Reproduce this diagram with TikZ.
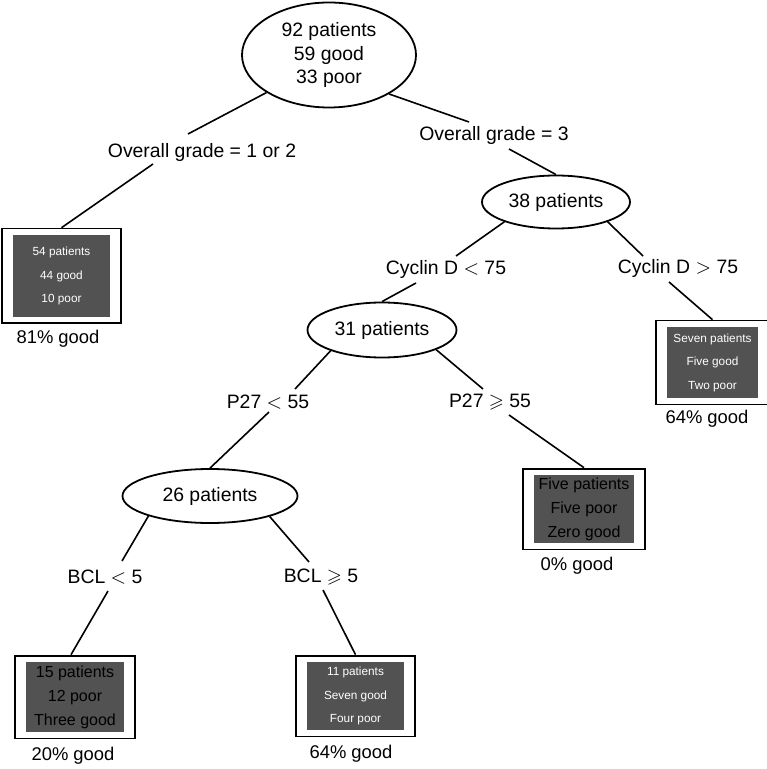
\documentclass[tikz,border=0pt]{standalone}
\usepackage{amsmath}
\usepackage{amssymb}
\usepackage{fontspec}
\setmainfont{Liberation Sans}
\usetikzlibrary{shapes.geometric, fit}
\definecolor{leafgray}{RGB}{82,82,82}

\begin{document}
\begin{tikzpicture}[x=0.5pt, y=-0.5pt,
    split/.style={ellipse, draw, line width=0.9pt, inner sep=0pt, align=center,
        font=\fontsize{9.7}{11.75}\selectfont},
    cond/.style={inner sep=0pt, font=\fontsize{9.7}{11.75}\selectfont},
    pct/.style={inner sep=0pt, font=\fontsize{9.2}{11}\selectfont},
    leafw/.style={fill=leafgray, text=white, inner sep=0pt, align=center,
        minimum width=48.5pt, minimum height=34pt, font=\fontsize{5.9}{11.75}\selectfont},
    leafb/.style={leafw, text=black, font=\fontsize{8}{12}\selectfont},
    frame/.style={draw, line width=0.9pt, inner xsep=5.25pt, inner ysep=3pt},
    edge/.style={line width=0.8pt}]
            \useasboundingbox (0,0) rectangle (766,769);

            % Root
            \node[split, minimum width=87pt, minimum height=52.5pt] (root) at (329,55) {92 patients\\59 good\\33 poor};
            \node[cond] (gradeA) at (202,152) {Overall grade = 1 or 2};
            \node[cond] (gradeB) at (494,135) {Overall grade = 3};

            % Grade 1 or 2
            \node[leafw, minimum height=41pt] (leafA) at (61.5,276) {54 patients\\44 good\\10 poor};
            \node[frame, fit=(leafA)] (frA) {};
            \node[pct] (pctA) at (58,339) {81\% good};

            % Grade 3
            \node[split, minimum width=74pt, minimum height=26.5pt] (n38) at (556,202) {38 patients};
            \node[cond] (cycA) at (446,269) {Cyclin D $<$ 75};
            \node[cond] (cycB) at (678,268) {Cyclin D $>$ 75};

            \node[leafw, minimum width=45.5pt, minimum height=35.5pt] (leafB) at (712.5,362.5) {Seven patients\\Five good\\Two poor};
            \node[frame, fit=(leafB)] (frB) {};
            \node[pct] (pctB) at (707,419) {64\% good};

            % Cyclin D < 75
            \node[split, minimum width=74.5pt, minimum height=27.5pt] (n31) at (382,330) {31 patients};
            \node[cond] (pA) at (268,402) {P27 $<$ 55};
            \node[cond] (pB) at (490,402) {P27 $\geqslant$ 55};

            \node[leafb, minimum width=50pt] (leafC) at (584,509) {Five patients\\Five poor\\Zero good};
            \node[frame, fit=(leafC)] (frC) {};
            \node[pct] (pctC) at (577,566) {0\% good};

            % P27 < 55
            \node[split, minimum width=87.5pt, minimum height=27pt] (n26) at (210,496) {26 patients};
            \node[cond] (bA) at (105,577) {BCL $<$ 5};
            \node[cond] (bB) at (321,577) {BCL $\geqslant$ 5};

            \node[leafb, minimum width=49pt, minimum height=35pt] (leafD) at (75,697) {15 patients\\12 poor\\Three good};
            \node[frame, fit=(leafD)] (frD) {};
            \node[pct] (pctD) at (73,756) {20\% good};

            \node[leafw] (leafE) at (355.5,696) {11 patients\\Seven good\\Four poor};
            \node[frame, fit=(leafE)] (frE) {};
            \node[pct] (pctE) at (351,754) {64\% good};

            % Branches
            \draw[edge] (root.211) -- ([xshift=-7pt,yshift=9pt]gradeA.center);
            \draw[edge] ([xshift=-24.5pt,yshift=-6pt]gradeA.center) -- (frA.north);
            \draw[edge] (root.327) -- ([xshift=-12.5pt,yshift=6.5pt]gradeB.center);
            \draw[edge] ([xshift=7.5pt,yshift=-7pt]gradeB.center) -- (n38.north);

            \draw[edge] (n38.201) -- ([xshift=5pt,yshift=6.5pt]cycA.center);
            \draw[edge] ([xshift=-15pt,yshift=-7pt]cycA.center) -- (n31.north);
            \draw[edge] (n38.339) -- ([xshift=-17.5pt,yshift=6pt]cycB.center);
            \draw[edge] ([xshift=-4.5pt,yshift=-7pt]cycB.center) -- (frB.north);

            \draw[edge] (n31.202) -- ([xshift=13.5pt,yshift=6.5pt]pA.center);
            \draw[edge] ([xshift=0.5pt,yshift=-5pt]pA.center) -- (n26.north);
            \draw[edge] (n31.340) -- ([xshift=-3.5pt,yshift=6.5pt]pB.center);
            \draw[edge] ([xshift=9.5pt,yshift=-6.5pt]pB.center) -- (frC.north);

            \draw[edge] (n26.198) -- ([xshift=8.5pt,yshift=8pt]bA.center);
            \draw[edge] ([xshift=1.5pt,yshift=-7pt]bA.center) -- ([xshift=-2pt]frD.north);
            \draw[edge] (n26.341) -- ([xshift=-6pt,yshift=7.5pt]bB.center);
            \draw[edge] ([xshift=1pt,yshift=-6.5pt]bB.center) -- (frE.north);
        \end{tikzpicture}
\end{document}
